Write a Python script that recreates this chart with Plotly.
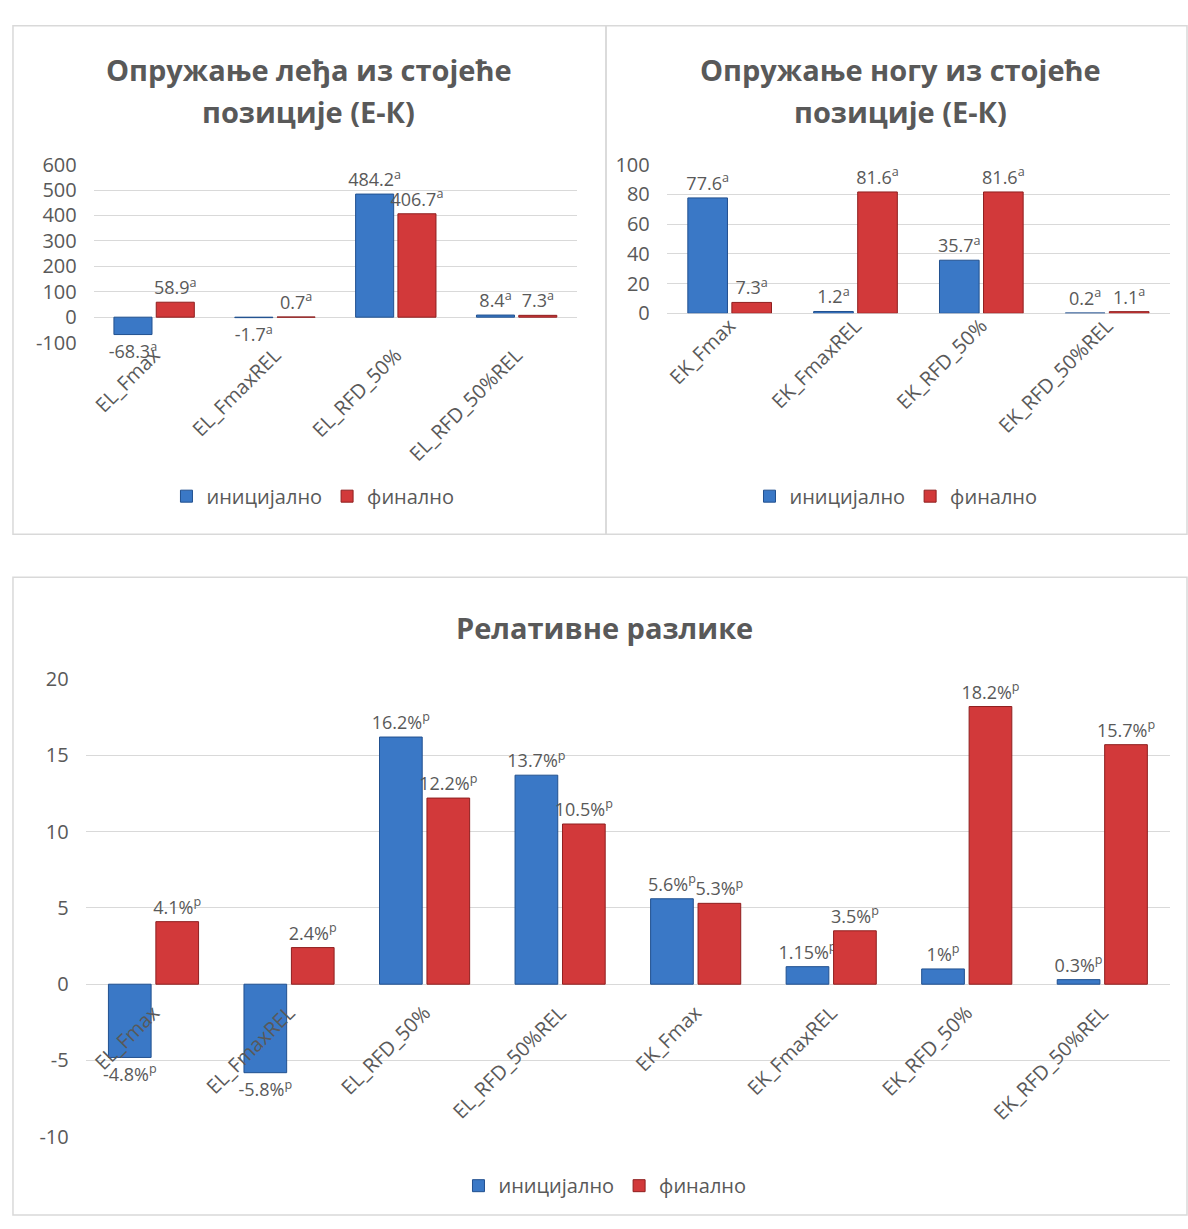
import plotly.graph_objects as go

# --- data -------------------------------------------------------------
back_categories = ["EL_Fmax", "EL_FmaxREL", "EL_RFD_50%", "EL_RFD_50%REL"]
back_initial = [-68.3, -1.7, 484.2, 8.4]
back_final = [58.9, 0.7, 406.7, 7.3]
back_ticks = [-100, 0, 100, 200, 300, 400, 500, 600]

legs_categories = ["EK_Fmax", "EK_FmaxREL", "EK_RFD_50%", "EK_RFD_50%REL"]
legs_initial = [77.6, 1.2, 35.7, 0.2]
legs_final = [7.3, 81.6, 81.6, 1.1]
legs_ticks = [0, 20, 40, 60, 80, 100]

rel_categories = ["EL_Fmax", "EL_FmaxREL", "EL_RFD_50%", "EL_RFD_50%REL",
                  "EK_Fmax", "EK_FmaxREL", "EK_RFD_50%", "EK_RFD_50%REL"]
rel_initial = [-4.8, -5.8, 16.2, 13.7, 5.6, 1.15, 1, 0.3]
rel_final = [4.1, 2.4, 12.2, 10.5, 5.3, 3.5, 18.2, 15.7]
rel_ticks = [-10, -5, 0, 5, 10, 15, 20]

series_names = ["иницијално", "финално"]

# --- style ------------------------------------------------------------
W, H = 1188, 1229
FONT = "Open Sans"
TXT = "#595959"
GRID = "#d9d9d9"
BLUE = "#3a78c6"
BLUE_EDGE = "#21508f"
RED = "#d2393a"
RED_EDGE = "#8f1f1f"


def px_x(p):
    return p / W


def px_y(p):
    return 1 - p / H


def fmt(v, suffix):
    return f"{v:g}{suffix}"


fig = go.Figure()

panels = [
    dict(cats=back_categories, a=back_initial, b=back_final, ax="",
         sup="<sup>a</sup>", xpx=(90, 575), ypx=(154, 336), ticks=back_ticks,
         legend="legend", at_zero=False),
    dict(cats=legs_categories, a=legs_initial, b=legs_final, ax="2",
         sup="<sup>a</sup>", xpx=(665, 1170), ypx=(154, 306), ticks=legs_ticks,
         legend="legend2", at_zero=False),
    dict(cats=rel_categories, a=rel_initial, b=rel_final, ax="3",
         sup="%<sup>p</sup>", xpx=(82, 1170), ypx=(680, 1148), ticks=rel_ticks,
         legend="legend3", at_zero=True),
]

for p in panels:
    for name, vals, col, edge in ((series_names[0], p["a"], BLUE, BLUE_EDGE),
                                  (series_names[1], p["b"], RED, RED_EDGE)):
        fig.add_trace(go.Bar(
            x=p["cats"], y=vals, name=name,
            xaxis="x" + p["ax"], yaxis="y" + p["ax"],
            marker=dict(color=col, line=dict(color=edge, width=1)),
            text=[fmt(v, p["sup"]) for v in vals],
            textposition="outside", cliponaxis=False, constraintext="none",
            textfont=dict(family=FONT, size=18, color=TXT),
            legend=p["legend"], hoverinfo="skip",
        ))

    y0, y1 = px_y(p["ypx"][1]), px_y(p["ypx"][0])
    r0, r1 = min(p["ticks"]), max(p["ticks"])
    xa = dict(
        domain=[px_x(p["xpx"][0]), px_x(p["xpx"][1])],
        tickangle=-45, showgrid=False, showline=False, ticks="",
        tickfont=dict(family=FONT, size=20, color=TXT),
        fixedrange=True,
    )
    if p["at_zero"]:
        # category labels hang from the zero line
        xa.update(anchor="free",
                  position=y0 + (0 - r0) / (r1 - r0) * (y1 - y0),
                  ticklabelstandoff=12)
    else:
        xa.update(anchor="y" + p["ax"], ticklabelstandoff=-4)
    ya = dict(
        domain=[y0, y1], range=[r0, r1],
        tickvals=p["ticks"], ticktext=[str(t) for t in p["ticks"]],
        anchor="x" + p["ax"],
        showgrid=True, gridcolor=GRID, gridwidth=1,
        zeroline=True, zerolinecolor=GRID, zerolinewidth=1,
        showline=False, ticks="", ticklabelstandoff=16,
        tickfont=dict(family=FONT, size=20, color=TXT),
        fixedrange=True,
    )
    fig.update_layout(**{"xaxis" + p["ax"]: xa, "yaxis" + p["ax"]: ya})

legend_common = dict(
    orientation="h", xanchor="center", yanchor="middle",
    font=dict(family=FONT, size=20, color=TXT), bgcolor="rgba(0,0,0,0)",
    itemwidth=30, traceorder="normal",
)
fig.update_layout(
    legend=dict(x=px_x(310), y=px_y(493), **legend_common),
    legend2=dict(x=px_x(895), y=px_y(493), **legend_common),
    legend3=dict(x=px_x(603), y=px_y(1198), **legend_common),
)

# panel frames
frame = dict(type="rect", xref="paper", yref="paper",
             line=dict(color=GRID, width=1.5), fillcolor="rgba(0,0,0,0)",
             layer="below")
fig.add_shape(x0=px_x(9), x1=px_x(604), y0=px_y(532), y1=px_y(12), **frame)
fig.add_shape(x0=px_x(604), x1=px_x(1187), y0=px_y(532), y1=px_y(12), **frame)
fig.add_shape(x0=px_x(9), x1=px_x(1187), y0=px_y(1228), y1=px_y(576), **frame)

# chart titles
title_font = dict(family=FONT, size=29, color=TXT)
titles = [
    ("<b>Опружање леђа из стојеће</b>", 306, 57),
    ("<b>позиције (Е-К)</b>", 306, 100),
    ("<b>Опружање ногу из стојеће</b>", 900, 57),
    ("<b>позиције (Е-К)</b>", 900, 100),
    ("<b>Релативне разлике</b>", 603, 627),
]
for text, x, y in titles:
    fig.add_annotation(text=text, x=px_x(x), y=px_y(y), xref="paper",
                       yref="paper", showarrow=False, xanchor="center",
                       yanchor="middle", font=title_font)

fig.update_layout(
    width=W, height=H, margin=dict(l=0, r=0, t=0, b=0),
    paper_bgcolor="white", plot_bgcolor="white",
    barmode="group", bargap=0.3, bargroupgap=0.1,
    font=dict(family=FONT, color=TXT),
)

fig.write_html("out.html")
